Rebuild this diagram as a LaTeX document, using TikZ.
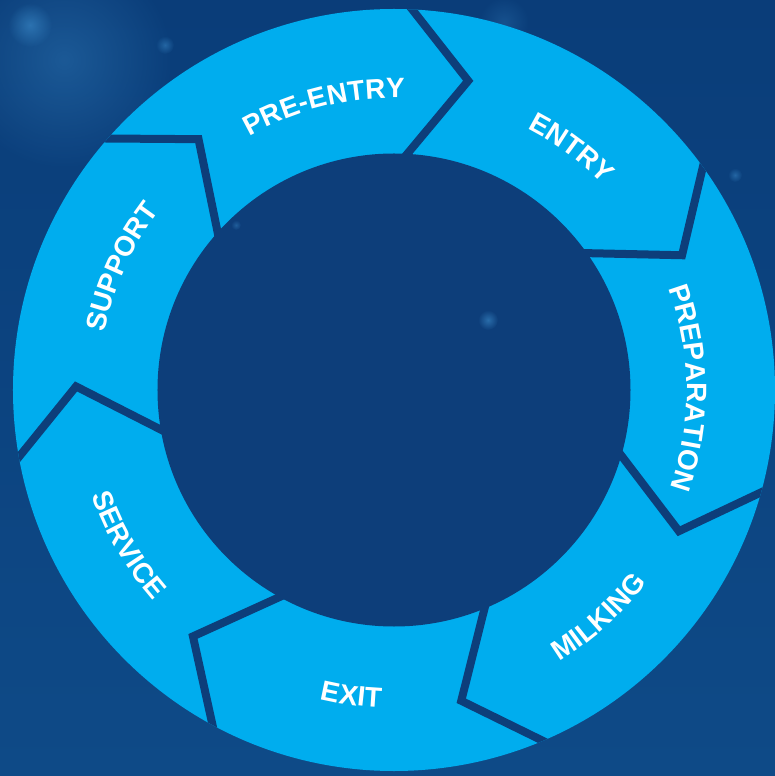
\documentclass[tikz,border=0pt]{standalone}
\usepackage{fontspec}
\setmainfont{Liberation Sans}
\usetikzlibrary{decorations.text,fadings}
\definecolor{bgtop}{HTML}{0A3D79}
\definecolor{bgbot}{HTML}{0E4A87}
\definecolor{ringblue}{HTML}{00ADEE}
\definecolor{darkblue}{HTML}{0D3E7A}
\definecolor{glow}{HTML}{3C8CCB}
\tikzfading[name=fuzzy, inner color=transparent!0, outer color=transparent!100]
\newcommand\labfont{\bfseries\fontsize{28}{28}\selectfont}
\tikzset{
  sepline/.style={draw=darkblue, line width=8pt, line join=miter, miter limit=10},
  lab/.style={decorate, decoration={text along path, text align=center,
      text color=white, text={|\labfont|#1}}},
  bokeh/.style={fill=glow, path fading=fuzzy, opacity=#1},
}
\begin{document}
\begin{tikzpicture}[x=1pt,y=1pt]
\useasboundingbox (-394,-386) rectangle (381,390);
% background
\shade[top color=bgtop, bottom color=bgbot] (-394,-386) rectangle (381,390);
\fill[bokeh=0.35] (-330,330) circle[radius=110];
\fill[bokeh=0.6] (-364,365) circle[radius=22];
\fill[bokeh=0.5] (-229,345) circle[radius=9];
\fill[bokeh=0.5] (341,215) circle[radius=7];
\fill[bokeh=0.25] (110,368) circle[radius=25];
% ring
\coordinate (c) at (0,0);
\fill[ringblue] (c) circle[radius=381];
\begin{scope}
  \clip (c) circle[radius=381];
  \foreach \k in {0,...,6} {
    \pgfmathsetmacro\t{89-\k*360/7}
    \coordinate (o\k) at (\t:395);
    \coordinate (p\k) at (\t-12.5:318);
    \coordinate (i\k) at (\t:225);
    \draw[sepline] (o\k) -- (p\k) -- (i\k);
  }
\end{scope}
% centre
\fill[darkblue] (c) circle[radius=236.5];
\fill[bokeh=0.6] (94,70) circle[radius=10];
\fill[bokeh=0.4] (-158,165) circle[radius=5];
% labels (top: clockwise, bottom: counter-clockwise)
\path[lab=PRE-ENTRY]   (143.8:292) arc[start angle=143.8, end angle=63.8, radius=292];
\path[lab=ENTRY]       (93.7:293) arc[start angle=93.7, end angle=13.7, radius=293];
\path[lab=PREPARATION] (40.4:293) arc[start angle=40.4, end angle=-39.6, radius=293];
\path[lab=SUPPORT]     (195.7:295) arc[start angle=195.7, end angle=115.7, radius=295];
\path[lab=MILKING]     (-88:318) arc[start angle=-88, end angle=-8, radius=318];
\path[lab=EXIT]        (-137.9:318) arc[start angle=-137.9, end angle=-57.9, radius=318];
\path[lab=SERVICE]     (-189.8:320) arc[start angle=-189.8, end angle=-109.8, radius=320];
\end{tikzpicture}
\end{document}
